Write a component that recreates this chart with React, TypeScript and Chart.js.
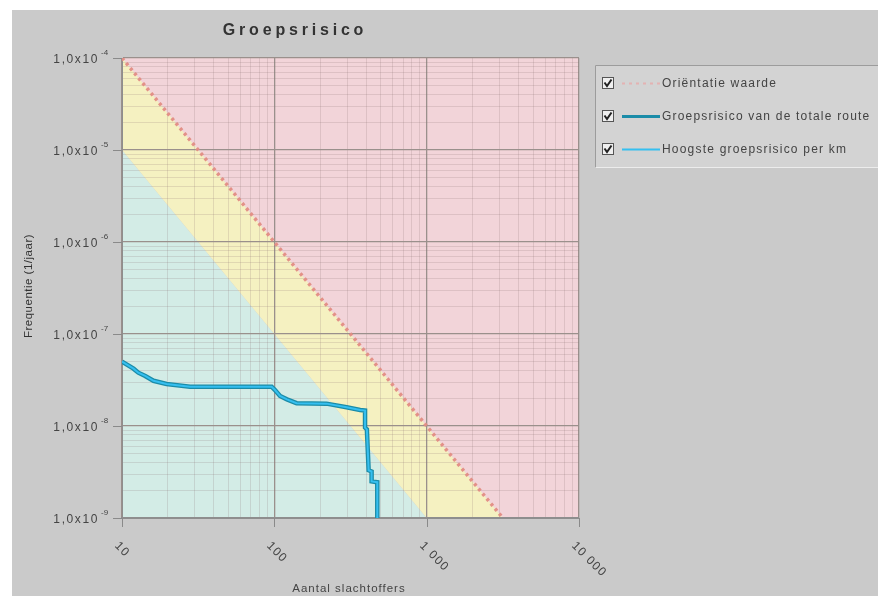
import { useEffect, useRef } from 'react';
import { Chart, registerables } from 'chart.js';

Chart.register(...registerables);

const chartTitle = 'Groepsrisico';
const xAxisTitle = 'Aantal slachtoffers';
const yAxisTitle = 'Frequentie (1/jaar)';

const xTickValues = [10, 100, 1000, 10000];
const xTickLabels = ['10', '100', '1 000', '10 000'];
const yTickValues = [1e-9, 1e-8, 1e-7, 1e-6, 1e-5, 1e-4];
const yTickMantissa = '1,0x10';
const yTickExponents = ['-9', '-8', '-7', '-6', '-5', '-4'];

const xMin = 10;
const xMax = 10000;
const yMin = 1e-9;
const yMax = 1e-4;

// Oriëntatiewaarde (upper boundary of the yellow band)
const orientationN = [10, 3162.28];
const orientationF = [1e-4, 1e-9];
// lower boundary of the yellow band
const lowerBandN = [10, 1000];
const lowerBandF = [1e-5, 1e-9];

// Groepsrisico curve
const routeN = [10, 11.9, 12.8, 14.2, 16.1, 19.6, 28, 96, 101, 109, 121, 140, 220, 298, 366, 394, 394, 405, 416, 435, 435, 474, 474];
const routeF = [5.0e-8, 4.2e-8, 3.8e-8, 3.5e-8, 3.1e-8, 2.86e-8, 2.67e-8, 2.67e-8, 2.46e-8, 2.12e-8, 1.95e-8, 1.77e-8, 1.75e-8, 1.6e-8, 1.49e-8, 1.47e-8, 9.6e-9, 9.2e-9, 3.3e-9, 3.2e-9, 2.5e-9, 2.45e-9, 1e-9];

const legendLabels = ['Oriëntatie waarde', 'Groepsrisico van de totale route', 'Hoogste groepsrisico per km'];

const FONT = '"Liberation Sans", Arial, sans-serif';
const colPink = '#f2d4d9';
const colYellow = '#f5f1c1';
const colCyan = '#d3ece6';
const colOrient = 'rgba(226,140,132,0.95)';
const colRoute = '#1b8ca8';
const colPerKm = '#35bff0';

function pts(xs: number[], ys: number[]) {
  return xs.map((x, i) => ({ x, y: ys[i] }));
}

function logGridTicks(min: number, max: number) {
  const out: { value: number }[] = [];
  const e0 = Math.round(Math.log10(min));
  const e1 = Math.round(Math.log10(max));
  for (let e = e0; e < e1; e++) {
    const d = Math.pow(10, e);
    for (let m = 1; m <= 9; m++) out.push({ value: m * d });
  }
  out.push({ value: max });
  return out;
}

function isMajor(v: number) {
  const l = Math.log10(v);
  return Math.abs(l - Math.round(l)) < 1e-6;
}

const overlayPlugin = {
  id: 'overlay',
  afterDraw(chart: any) {
    const ctx = chart.ctx as CanvasRenderingContext2D;
    const xs = chart.scales.x;
    const ys = chart.scales.y;
    const area = chart.chartArea;
    ctx.save();

    // title
    ctx.fillStyle = '#333';
    ctx.font = `bold 16px ${FONT}`;
    (ctx as any).letterSpacing = '3.8px';
    ctx.textAlign = 'center';
    ctx.textBaseline = 'middle';
    ctx.fillText(chartTitle, 295, 31);

    // y ticks
    ctx.strokeStyle = '#8a8a8a';
    ctx.lineWidth = 1;
    yTickValues.forEach((v, i) => {
      const py = Math.round(ys.getPixelForValue(v)) + 0.5;
      ctx.beginPath();
      ctx.moveTo(area.left - 9, py);
      ctx.lineTo(area.left, py);
      ctx.stroke();
      ctx.fillStyle = '#444';
      ctx.font = `12px ${FONT}`;
      (ctx as any).letterSpacing = '1.6px';
      ctx.textAlign = 'right';
      ctx.textBaseline = 'middle';
      ctx.fillText(yTickMantissa, 99, py + 1);
      ctx.font = `8px ${FONT}`;
      (ctx as any).letterSpacing = '0px';
      ctx.textAlign = 'left';
      ctx.fillText(yTickExponents[i], 101, py - 6);
    });

    // x ticks
    xTickValues.forEach((v, i) => {
      const px = Math.round(xs.getPixelForValue(v)) + 0.5;
      ctx.strokeStyle = '#8a8a8a';
      ctx.beginPath();
      ctx.moveTo(px, area.bottom);
      ctx.lineTo(px, area.bottom + 9);
      ctx.stroke();
      ctx.save();
      ctx.translate(px - 6, area.bottom + 26);
      ctx.rotate(Math.PI / 4);
      ctx.fillStyle = '#444';
      ctx.font = `12px ${FONT}`;
      (ctx as any).letterSpacing = '1.2px';
      ctx.textAlign = 'left';
      ctx.textBaseline = 'middle';
      ctx.fillText(xTickLabels[i], 0, 0);
      ctx.restore();
    });

    // axis titles
    ctx.fillStyle = '#444';
    ctx.font = `11.5px ${FONT}`;
    (ctx as any).letterSpacing = '1px';
    ctx.textAlign = 'center';
    ctx.textBaseline = 'middle';
    ctx.fillText(xAxisTitle, 349, 589);
    ctx.save();
    ctx.translate(29, 286);
    ctx.rotate(-Math.PI / 2);
    ctx.fillStyle = '#333';
    (ctx as any).letterSpacing = '0.5px';
    ctx.fillText(yAxisTitle, 0, 0);
    ctx.restore();

    // legend box
    const bx = 595, by = 65, bw = 283, bh = 102;
    ctx.fillStyle = '#d3d3d3';
    ctx.fillRect(bx, by, bw, bh);
    ctx.strokeStyle = '#9c9c9c';
    ctx.beginPath();
    ctx.moveTo(bx + 0.5, by + bh);
    ctx.lineTo(bx + 0.5, by + 0.5);
    ctx.lineTo(bx + bw, by + 0.5);
    ctx.stroke();
    ctx.strokeStyle = '#ececec';
    ctx.beginPath();
    ctx.moveTo(bx + 1, by + bh + 0.5);
    ctx.lineTo(bx + bw, by + bh + 0.5);
    ctx.stroke();

    const rows = [83, 116, 149];
    const ds = chart.data.datasets;
    const sample = [ds[2], ds[1], ds[0]];
    rows.forEach((cy, i) => {
      // checkbox
      ctx.fillStyle = '#efefef';
      ctx.fillRect(602, cy - 6, 12, 12);
      ctx.strokeStyle = '#555';
      ctx.lineWidth = 1;
      ctx.setLineDash([]);
      ctx.strokeRect(602.5, cy - 5.5, 11, 11);
      ctx.strokeStyle = '#222';
      ctx.lineWidth = 2;
      ctx.beginPath();
      ctx.moveTo(604.5, cy - 0.5);
      ctx.lineTo(607, cy + 3);
      ctx.lineTo(611.5, cy - 3.5);
      ctx.stroke();
      // line sample
      const d = sample[i];
      ctx.strokeStyle = i === 0 ? 'rgba(232,170,170,0.8)' : d.borderColor;
      ctx.lineWidth = i === 0 ? 2 : i === 1 ? 3 : 2;
      ctx.setLineDash(i === 0 ? [3, 4] : []);
      ctx.beginPath();
      ctx.moveTo(622, cy + 0.5);
      ctx.lineTo(660, cy + 0.5);
      ctx.stroke();
      ctx.setLineDash([]);
      // label
      ctx.fillStyle = '#444';
      ctx.font = `12px ${FONT}`;
      (ctx as any).letterSpacing = '1.2px';
      ctx.textAlign = 'left';
      ctx.textBaseline = 'middle';
      ctx.fillText(legendLabels[i], 662, cy + 1);
    });

    (ctx as any).letterSpacing = '0px';
    ctx.restore();
  },
};

export default function App() {
  const ref = useRef<HTMLCanvasElement | null>(null);

  useEffect(() => {
    document.body.style.margin = '0';
    const canvas = ref.current;
    if (!canvas) return;

    const gridColor = (c: any) => (c.tick && isMajor(c.tick.value) ? '#9a908c' : 'rgba(140,115,115,0.2)');
    const gridWidth = (c: any) => (c.tick && isMajor(c.tick.value) ? 1.3 : 1);

    const chart = new Chart(canvas, {
      type: 'line',
      data: {
        datasets: [
          {
            label: legendLabels[2],
            data: pts(routeN, routeF),
            borderColor: colPerKm,
            borderWidth: 2,
            pointRadius: 0,
            fill: false,
            tension: 0,
          },
          {
            label: legendLabels[1],
            data: pts(routeN, routeF),
            borderColor: colRoute,
            borderWidth: 4.5,
            pointRadius: 0,
            fill: false,
            tension: 0,
          },
          {
            label: legendLabels[0],
            data: pts(orientationN, orientationF),
            borderColor: colOrient,
            borderWidth: 3.5,
            borderDash: [3, 3.5],
            borderCapStyle: 'butt',
            pointRadius: 0,
            fill: false,
          },
          {
            label: 'pink',
            data: [...pts(orientationN, orientationF), { x: xMax, y: yMin }],
            borderColor: 'transparent',
            borderWidth: 0,
            backgroundColor: colPink,
            pointRadius: 0,
            fill: 'end',
          },
          {
            label: 'yellow',
            data: [...pts(lowerBandN, lowerBandF), { x: xMax, y: yMin }],
            borderColor: 'transparent',
            borderWidth: 0,
            backgroundColor: colYellow,
            pointRadius: 0,
            fill: 'end',
          },
          {
            label: 'cyan',
            data: [...pts(lowerBandN, lowerBandF), { x: xMax, y: yMin }],
            borderColor: 'transparent',
            borderWidth: 0,
            backgroundColor: colCyan,
            pointRadius: 0,
            fill: 'start',
          },
        ],
      },
      options: {
        animation: false,
        responsive: false,
        events: [],
        parsing: false,
        layout: { padding: { top: 58, right: 299, left: 0, bottom: 0 } },
        plugins: {
          legend: { display: false },
          tooltip: { enabled: false },
          title: { display: false },
          filler: { drawTime: 'beforeDraw', propagate: false },
        } as any,
        scales: {
          x: {
            type: 'logarithmic',
            min: xMin,
            max: xMax,
            afterBuildTicks: (s: any) => {
              s.ticks = logGridTicks(xMin, xMax);
            },
            afterFit: (s: any) => {
              s.height = 78;
            },
            ticks: { display: false },
            grid: { color: gridColor, lineWidth: gridWidth, drawTicks: false },
            border: { display: true, color: '#8e8e8e', width: 2 },
          },
          y: {
            type: 'logarithmic',
            min: yMin,
            max: yMax,
            afterBuildTicks: (s: any) => {
              s.ticks = logGridTicks(yMin, yMax);
            },
            afterFit: (s: any) => {
              s.width = 122;
            },
            ticks: { display: false },
            grid: { color: gridColor, lineWidth: gridWidth, drawTicks: false },
            border: { display: true, color: '#8e8e8e', width: 1 },
          },
        },
      } as any,
      plugins: [overlayPlugin],
    });

    return () => chart.destroy();
  }, []);

  return (
    <div style={{ position: 'relative', width: 878, height: 596, background: '#ffffff', overflow: 'hidden' }}>
      <div style={{ position: 'absolute', left: 12, top: 10, right: 0, bottom: 0, background: '#cacaca' }} />
      <canvas ref={ref} width={878} height={596} style={{ position: 'absolute', left: 0, top: 0 }} />
    </div>
  );
}
